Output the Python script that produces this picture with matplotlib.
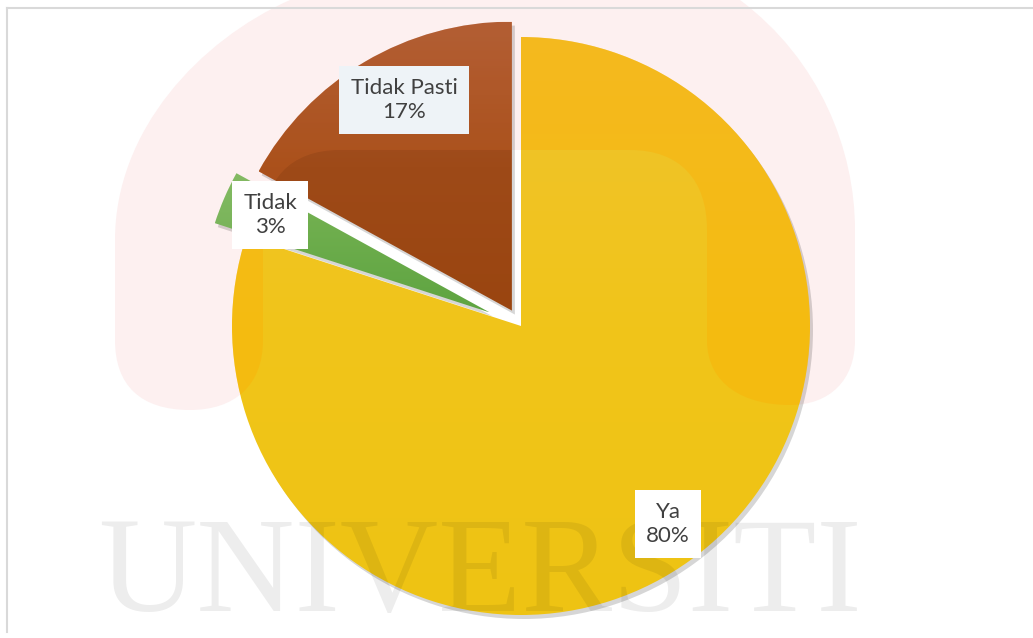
import numpy as np
import matplotlib
matplotlib.use("Agg")
import matplotlib.pyplot as plt
from matplotlib.path import Path
from matplotlib.patches import PathPatch
from matplotlib.colors import LinearSegmentedColormap

# data
labels = ["Ya", "Tidak", "Tidak Pasti"]
values = [80, 3, 17]
explode_frac = [0.0, 0.118, 0.062]
grad_colors = [
    ["#EFC22E", "#F1C51A", "#EEC313"],   # Ya
    ["#7AB556", "#5EA441"],              # Tidak
    ["#A85A36", "#9E4A18", "#9A4510"],   # Tidak Pasti
]
# tint of the watermark logo where it lies on each slice
logo_tint = [("#FFA800", 0.32), ("#FFFFFF", 0.08), ("#E8742E", 0.18)]

W, H = 1033, 638
fig = plt.figure(figsize=(W / 100, H / 100), dpi=100)
ax = fig.add_axes([0, 0, 1, 1])


def iy(y):
    # image row -> data y
    return H - y


# U-shaped watermark logo outline
verts = [(190, 410),
         (140, 410), (115, 385), (115, 340),
         (115, 240),
         (115, 130), (200, 40), (290, 0),
         (740, 0),
         (820, 60), (855, 150), (855, 230),
         (855, 340),
         (855, 380), (830, 405), (790, 405),
         (745, 405), (707, 385), (707, 340),
         (707, 230),
         (707, 180), (680, 150), (630, 150),
         (340, 150),
         (290, 150), (263, 180), (263, 230),
         (263, 340),
         (263, 385), (235, 410), (190, 410),
         (190, 410)]
codes = ([Path.MOVETO] + [Path.CURVE4] * 3 + [Path.LINETO]
         + [Path.CURVE4] * 3 + [Path.LINETO]
         + [Path.CURVE4] * 3 + [Path.LINETO]
         + [Path.CURVE4] * 6 + [Path.LINETO]
         + [Path.CURVE4] * 3 + [Path.LINETO]
         + [Path.CURVE4] * 3 + [Path.LINETO]
         + [Path.CURVE4] * 3 + [Path.CLOSEPOLY])
logo = Path([(x, iy(y)) for x, y in verts], codes)
ax.add_patch(PathPatch(logo, facecolor="#FDF0F0", edgecolor="none", zorder=0))

cx, cy, r = 521, iy(326), 289
# pie() adds explode straight to the centre, so scale by the radius
explode = [e * r for e in explode_frac]

# soft shadow
sh, _ = ax.pie(values, explode=explode, startangle=90, counterclock=False,
               center=(cx + 3, cy - 4), radius=r, frame=True)
for w in sh:
    w.set_facecolor((0, 0, 0, 0.16))
    w.set_edgecolor("none")
    w.set_zorder(1)

wedges, _ = ax.pie(values, explode=explode, startangle=90, counterclock=False,
                   center=(cx, cy), radius=r, frame=True,
                   wedgeprops=dict(edgecolor="none"))
for w, cols, (tc, ta) in zip(wedges, grad_colors, logo_tint):
    w.set_facecolor("none")
    w.set_zorder(2)
    bb = w.get_path().get_extents(w.get_patch_transform())
    cmap = LinearSegmentedColormap.from_list("g", cols)
    grad = np.linspace(0, 1, 256).reshape(-1, 1)
    im = ax.imshow(grad, cmap=cmap, aspect="auto", origin="upper",
                   extent=(bb.x0, bb.x1, bb.y0, bb.y1), zorder=2,
                   interpolation="bilinear")
    im.set_clip_path(w)
    tint = ax.add_patch(PathPatch(logo, facecolor=tc, alpha=ta,
                                  edgecolor="none", zorder=3))
    tint.set_clip_path(w)

ax.text(480, iy(578), "UNIVERSITI", family="Liberation Serif", fontsize=98,
        color="black", alpha=0.07, ha="center", va="center", zorder=3)

# chart border (top and left)
ax.plot([7, W], [iy(8), iy(8)], color="#D9D9D9", lw=1.5, zorder=0.6)
ax.plot([7, 7], [iy(8), iy(632)], color="#D9D9D9", lw=1.5, zorder=0.6)

ax.set_xlim(0, W)
ax.set_ylim(0, H)
ax.set_aspect("equal")
ax.axis("off")

# data labels
pos = {"Ya": (668, 524), "Tidak": (270, 215), "Tidak Pasti": (404, 100)}
box_fc = {"Ya": "white", "Tidak": "white", "Tidak Pasti": "#EEF3F7"}
for lab, v in zip(labels, values):
    x, y = pos[lab]
    ax.text(x, iy(y), f"{lab}\n{v}%", family="Lato", fontsize=16,
            color="#404040", ha="center", va="center", linespacing=1.3,
            zorder=5,
            bbox=dict(boxstyle="square,pad=0.5", fc=box_fc[lab], ec="none"))

fig.savefig("out.png", dpi=100)
